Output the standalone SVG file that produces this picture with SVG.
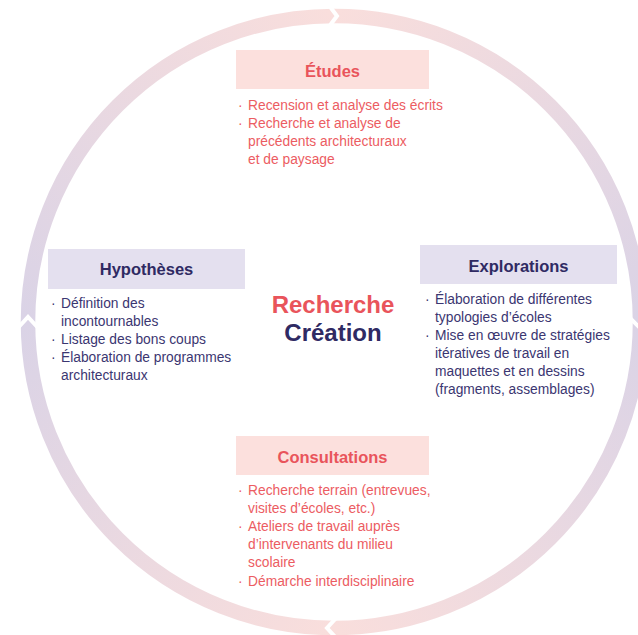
<svg xmlns="http://www.w3.org/2000/svg" width="638" height="635" viewBox="0 0 638 635">
<style>
.ring{fill:none;stroke-width:14.5}
.gap{fill:none;stroke:#fff;stroke-width:4;stroke-linejoin:miter}
.title{font-family:"Liberation Sans",Arial,sans-serif;font-size:16.5px;font-weight:bold;text-anchor:middle}
.item{font-family:"Liberation Sans",Arial,sans-serif;font-size:13.8px}
.coral{fill:#e9545b}
.navy{fill:#2f2a63}
.citem{fill:#ec5c62}
.nitem{fill:#3b3671}
.pinkbox{fill:#fce0dd}
.lavbox{fill:#e4e0ef}
.big{font-family:"Liberation Sans",Arial,sans-serif;font-size:24px;font-weight:bold;text-anchor:middle}
</style>
<defs>
<linearGradient id="gTR" gradientUnits="userSpaceOnUse" x1="334" y1="16" x2="640" y2="322"><stop offset="0" stop-color="#f9dedc"/><stop offset="1" stop-color="#dad3e6"/></linearGradient>
<linearGradient id="gBR" gradientUnits="userSpaceOnUse" x1="640" y1="322" x2="334" y2="628"><stop offset="0" stop-color="#dad3e6"/><stop offset="1" stop-color="#f9dedc"/></linearGradient>
<linearGradient id="gBL" gradientUnits="userSpaceOnUse" x1="334" y1="628" x2="28" y2="322"><stop offset="0" stop-color="#f9dedc"/><stop offset="1" stop-color="#dad3e6"/></linearGradient>
<linearGradient id="gTL" gradientUnits="userSpaceOnUse" x1="28" y1="322" x2="334" y2="16"><stop offset="0" stop-color="#dad3e6"/><stop offset="1" stop-color="#f9dedc"/></linearGradient>
</defs>
<g id="connectors">
<path class="ring" stroke="url(#gTR)" d="M334,16 A306,306 0 0 1 640,322"/>
<path class="ring" stroke="url(#gBR)" d="M640,322 A306,306 0 0 1 334,628"/>
<path class="ring" stroke="url(#gBL)" d="M334,628 A306,306 0 0 1 28,322"/>
<path class="ring" stroke="url(#gTL)" d="M28,322 A306,306 0 0 1 334,16"/>
<polyline class="gap" points="328,4 337,16 328,28"/>
<polyline class="gap" points="16,330 28,317 40,330"/>
<polyline class="gap" points="338,616 327,628 338,640"/>
<polyline class="gap" points="628,316 640,328 652,316"/>
</g>
<g id="center">
<text class="big coral" x="333" y="313">Recherche</text>
<text class="big navy" x="333" y="341">Création</text>
</g>
<g id="etudes">
<rect class="pinkbox" x="236" y="50" width="193" height="39"/>
<text class="title coral" x="332.5" y="77">Études</text>
<g class="item citem">
<text x="238" y="110">·</text><text x="248" y="110">Recension et analyse des écrits</text>
<text x="238" y="128">·</text><text x="248" y="128">Recherche et analyse de</text>
<text x="248" y="146">précédents architecturaux</text>
<text x="248" y="164">et de paysage</text>
</g>
</g>
<g id="hypotheses">
<rect class="lavbox" x="48" y="249" width="197" height="40"/>
<text class="title navy" x="146.5" y="275">Hypothèses</text>
<g class="item nitem">
<text x="51" y="308">·</text><text x="61" y="308">Définition des</text>
<text x="61" y="326">incontournables</text>
<text x="51" y="344">·</text><text x="61" y="344">Listage des bons coups</text>
<text x="51" y="362">·</text><text x="61" y="362">Élaboration de programmes</text>
<text x="61" y="380">architecturaux</text>
</g>
</g>
<g id="explorations">
<rect class="lavbox" x="420" y="245" width="197" height="39"/>
<text class="title navy" x="518.5" y="272">Explorations</text>
<g class="item nitem">
<text x="425" y="304">·</text><text x="435" y="304">Élaboration de différentes</text>
<text x="435" y="322">typologies d’écoles</text>
<text x="425" y="340">·</text><text x="435" y="340">Mise en œuvre de stratégies</text>
<text x="435" y="358">itératives de travail en</text>
<text x="435" y="376">maquettes et en dessins</text>
<text x="435" y="394">(fragments, assemblages)</text>
</g>
</g>
<g id="consultations">
<rect class="pinkbox" x="236" y="436" width="193" height="39"/>
<text class="title coral" x="332.5" y="463">Consultations</text>
<g class="item citem">
<text x="238" y="495">·</text><text x="248" y="495">Recherche terrain (entrevues,</text>
<text x="248" y="513">visites d’écoles, etc.)</text>
<text x="238" y="531">·</text><text x="248" y="531">Ateliers de travail auprès</text>
<text x="248" y="549">d’intervenants du milieu</text>
<text x="248" y="567">scolaire</text>
<text x="238" y="586">·</text><text x="248" y="586">Démarche interdisciplinaire</text>
</g>
</g>
</svg>
